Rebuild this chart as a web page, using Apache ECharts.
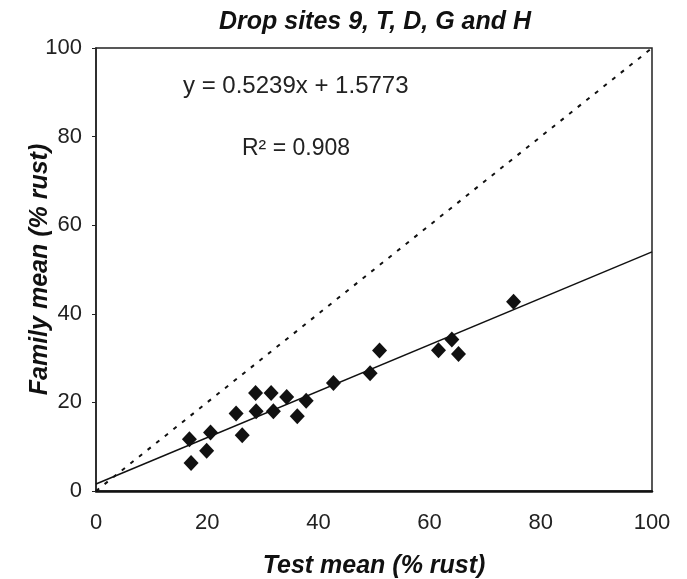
<!DOCTYPE html>
<html>
<head>
<meta charset="utf-8">
<script src="https://cdn.jsdelivr.net/npm/echarts@6/dist/echarts.min.js"></script>
<style>
html,body{margin:0;padding:0;background:#fff;}
#myChart{width:687px;height:579px;}
</style>
</head>
<body>
<div id="myChart"></div>
<script>
// 数据点 (test mean, family mean)
var testMean = [16.8, 17.1, 19.9, 20.6, 25.2, 26.3, 28.7, 28.8, 31.5, 31.9, 34.3, 36.2, 37.8, 42.7, 49.3, 51.0, 61.6, 64.0, 65.2, 75.1]
var familyMean = [11.7, 6.3, 9.1, 13.2, 17.5, 12.6, 22.1, 18.0, 22.1, 18.0, 21.2, 16.9, 20.4, 24.4, 26.6, 31.7, 31.8, 34.2, 30.9, 42.7]
// 回归线 y = 0.5239x + 1.5773 端点
var fitX = [0, 100]
var fitY = [1.58, 53.97]
// 1:1 线
var oneX = [0, 100]
var oneY = [0, 100]
var ticks = [0, 20, 40, 60, 80, 100]

var font = 'Liberation Sans, Arial, sans-serif'
function pairs(xs, ys){
    var out = []
    for (var i = 0; i < xs.length; i++) out.push([xs[i], ys[i]])
    return out
}
var boldName = {fontFamily: font, fontSize: 25, fontWeight: 'bold', fontStyle: 'italic', color: '#111'}

var myChart = echarts.init(document.getElementById('myChart'))
var options = {
    animation: false,
    backgroundColor: '#fff',
    title: {
        text: 'Drop sites 9, T, D, G and H',
        left: 370,
        textAlign: 'center',
        top: 5,
        textStyle: boldName
    },
    grid: {
        left: 96, right: 35, top: 48, bottom: 88,
        outerBoundsMode: 'none',
        show: true, borderColor: '#222', borderWidth: 1.5
    },
    xAxis: {
        type: 'value', min: 0, max: 100, interval: 20,
        name: 'Test mean (% rust)',
        nameLocation: 'middle', nameGap: 63,
        nameMoveOverlap: false,
        nameTextStyle: boldName,
        axisLine: {show: true, lineStyle: {color: '#111', width: 2.5}},
        axisTick: {show: false},
        splitLine: {show: false},
        axisLabel: {
            fontFamily: font, fontSize: 22, color: '#222', margin: 21,
            formatter: function(v){ return ticks.indexOf(v) >= 0 ? String(v) : '' }
        }
    },
    yAxis: {
        type: 'value', min: 0, max: 100, interval: 20,
        name: 'Family mean (% rust)',
        nameLocation: 'middle', nameGap: 43,
        nameMoveOverlap: false,
        nameTextStyle: boldName,
        axisLine: {show: true, lineStyle: {color: '#222', width: 1.5}},
        axisTick: {show: true, length: 4, lineStyle: {color: '#222'}},
        splitLine: {show: false},
        axisLabel: {fontFamily: font, fontSize: 22, color: '#222', margin: 14}
    },
    series: [
        {
            type: 'line',
            data: pairs(oneX, oneY),
            symbol: 'none',
            lineStyle: {color: '#111', width: 2, type: [4, 7]},
            z: 1
        },
        {
            type: 'line',
            data: pairs(fitX, fitY),
            symbol: 'none',
            lineStyle: {color: '#111', width: 1.5},
            z: 2
        },
        {
            type: 'scatter',
            data: pairs(testMean, familyMean),
            symbol: 'diamond',
            symbolSize: [15, 16],
            itemStyle: {color: '#111', opacity: 1},
            z: 3
        }
    ],
    graphic: [
        {
            type: 'text', left: 183, top: 74,
            style: {text: 'y = 0.5239x + 1.5773', font: '24px ' + font, fill: '#222'}
        },
        {
            type: 'text', left: 242, top: 137,
            style: {text: 'R² = 0.908', font: '23px ' + font, fill: '#222'}
        }
    ]
};
myChart.setOption(options)
</script>
</body>
</html>
